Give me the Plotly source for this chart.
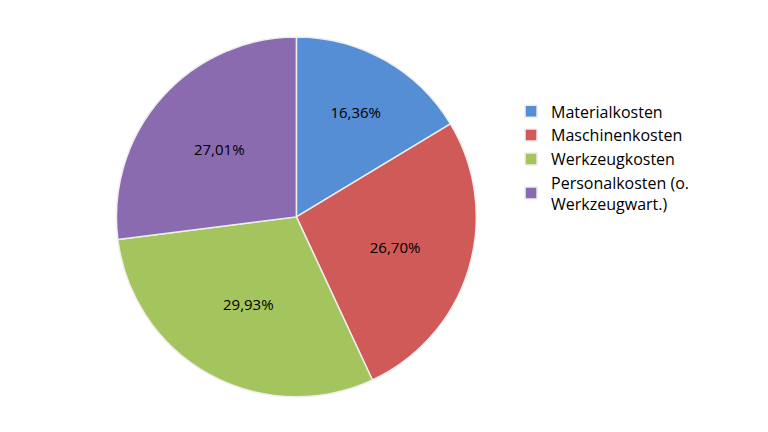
import plotly.graph_objects as go

labels = ["Materialkosten", "Maschinenkosten", "Werkzeugkosten", "Personalkosten (o.<br>Werkzeugwart.)"]
values = [16.36, 26.70, 29.93, 27.01]
texts = ["16,36%", "26,70%", "29,93%", "27,01%"]
colors = ["#558ED5", "#D05A57", "#A4C45E", "#8B6BAF"]

fig = go.Figure(go.Pie(
    labels=labels, values=values, text=texts, texttemplate="%{text}",
    textposition="inside", insidetextorientation="horizontal",
    textfont=dict(color="black", size=15, family="Open Sans"),
    marker=dict(colors=colors, line=dict(color="#EEEEEE", width=1.5)),
    sort=False, direction="clockwise", rotation=0,
    domain=dict(x=[0.141, 0.61], y=[0.1, 0.933]),
))
fig.update_layout(
    width=768, height=432, margin=dict(l=0, r=0, t=0, b=0),
    paper_bgcolor="white",
    legend=dict(x=0.655, y=0.8, yanchor="top", xanchor="left",
                font=dict(size=16, family="Open Sans", color="black"),
                itemwidth=30),
    showlegend=True,
)
fig.write_html("out.html")
